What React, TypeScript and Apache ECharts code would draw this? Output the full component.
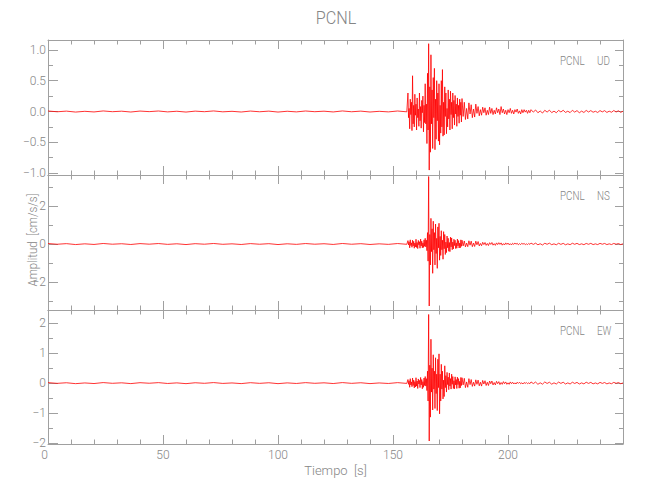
import React, { useEffect, useRef } from "react";
import * as echarts from "echarts";

// ---------- data ----------
const TITLE = "PCNL";
const STATION = "PCNL";
const COMPONENTS = ["UD", "NS", "EW"];
const X_NAME = "Tiempo  [s]";
const Y_NAME = "Amplitud  [cm/s/s]";

const X_MIN = 0;
const X_MAX = 250;
const xMajorTicks = [0, 50, 100, 150, 200];
const xMinorTicks = [10, 20, 30, 40, 60, 70, 80, 90, 110, 120, 130, 140, 160, 170, 180, 190, 210, 220, 230, 240];

const udRange = [-1.03, 1.16];
const nsRange = [-3.47, 3.63];
const ewRange = [-2.04, 2.45];
const udMajor = [-1, -0.5, 0, 0.5, 1];
const udMinor = [-0.75, -0.25, 0.25, 0.75];
const nsMajor = [-2, 0, 2];
const nsMinor = [-3, -1, 1, 3];
const ewMajor = [-2, -1, 0, 1, 2];
const ewMinor = [-1.5, -0.5, 0.5, 1.5];

// sampling of the read-off traces (seconds)
const PRE_START = 0;
const PRE_STEP = 4;
const BURST_START = 156.5;
const BURST_STEP = 0.25;
const CODA_START = 180;
const CODA_STEP = 0.5;
const POST_START = 210;
const POST_STEP = 1;

const udPre = [0.008, -0.004, 0.006, -0.009, 0.003, -0.007, 0.009, -0.003, 0.005, -0.008, 0.007, -0.002, 0.008, -0.006, 0.004, -0.009, 0.006, -0.003, 0.009, -0.005, 0.003, -0.008, 0.007, -0.004, 0.006, -0.009, 0.004, -0.006, 0.008, -0.003, 0.005, -0.007, 0.009, -0.004, 0.006, -0.008, 0.003, -0.006, 0.008, -0.005];
const udBurst = [
  0.3, -0.1, 0.05, -0.28, 0.2, -0.05, 0.15, -0.31, 0.58, -0.2,
  0.1, -0.25, 0.28, -0.06, 0.12, -0.3, 0.22, -0.1, 0.04, -0.24,
  0.3, -0.15, 0.08, -0.27, 0.18, -0.02, 0.25, -0.33, 0.1, -0.18,
  0.45, -0.2, 0.12, -0.52, 0.62, -0.3, 1.1, -0.95, 0.4, -0.66,
  0.92, -0.2, 0.35, -0.6, 0.55, -0.1, 0.7, -0.62, 0.2, -0.45,
  0.5, -0.15, 0.3, -0.48, 0.45, -0.54, 0.1, -0.35, 0.5, -0.25,
  0.68, -0.4, 0.15, -0.38, 0.4, -0.08, 0.3, -0.36, 0.05, -0.25,
  0.35, -0.12, 0.2, -0.3, 0.33, -0.05, 0.15, -0.28, 0.3, -0.1,
  0.18, -0.22, 0.26, -0.04, 0.12, -0.24, 0.22, -0.08, 0.1, -0.19,
  0.2, -0.06, 0.15, -0.17,
];
const udCoda = [
  0.21, -0.08, 0.15, -0.13, 0.05, -0.12, 0.14, -0.04, 0.11, -0.1,
  0.04, -0.09, 0.12, -0.03, 0.08, -0.07, 0.03, -0.06, 0.07, -0.02,
  0.06, -0.06, 0.02, -0.05, 0.07, -0.03, 0.05, -0.05, 0.02, -0.04,
  0.06, -0.02, 0.04, -0.05, 0.08, -0.02, 0.04, -0.04, 0.02, -0.05,
  0.03, -0.02, 0.05, -0.03, 0.02, -0.04, 0.03, -0.01, 0.04, -0.03,
  0.01, -0.04, 0.03, -0.02, 0.03, -0.01, 0.02, -0.03, 0.02, -0.02,
];
const udPost = [0.03, -0.01, 0.025, -0.02, 0.008, -0.025, 0.02, -0.01, 0.022, -0.018, 0.006, -0.02, 0.018, -0.008, 0.02, -0.015, 0.005, -0.018, 0.02, -0.01, 0.015, -0.02, 0.006, -0.016, 0.018, -0.008, 0.015, -0.012, 0.004, -0.016, 0.015, -0.006, 0.014, -0.015, 0.005, -0.012, 0.016, -0.008, 0.012, -0.014, 0.005];

const nsPre = [0.025, -0.012, 0.02, -0.028, 0.01, -0.022, 0.028, -0.01, 0.015, -0.025, 0.022, -0.008, 0.025, -0.018, 0.012, -0.028, 0.018, -0.01, 0.028, -0.015, 0.01, -0.025, 0.022, -0.012, 0.018, -0.028, 0.012, -0.018, 0.025, -0.01, 0.015, -0.022, 0.028, -0.012, 0.018, -0.025, 0.01, -0.018, 0.025, -0.015];
const nsBurst = [
  0.18, -0.05, 0.12, -0.2, 0.22, -0.08, 0.06, -0.17, 0.2, -0.1,
  0.14, -0.22, 0.05, -0.15, 0.25, -0.18, 0.08, -0.24, 0.19, -0.04,
  0.12, -0.22, 0.26, -0.1, 0.15, -0.2, 0.06, -0.18, 0.22, -0.12,
  0.3, -0.15, 0.2, -0.35, 0.6, -0.9, 3.55, -3.26, 0.5, -1.1,
  1.35, -0.4, 0.8, -1.54, 1.2, -0.3, 0.6, -1.1, 1.05, -0.5,
  0.3, -1.28, 0.9, -0.2, 1.09, -0.85, 0.4, -0.6, 0.7, -0.3,
  0.2, -0.8, 0.65, -0.25, 0.5, -0.55, 0.1, -0.45, 0.42, -0.2,
  0.3, -0.38, 0.08, -0.4, 0.36, -0.15, 0.32, -0.3, 0.1, -0.26,
  0.25, -0.08, 0.2, -0.24, 0.06, -0.22, 0.26, -0.1, 0.18, -0.21,
  0.05, -0.2, 0.22, -0.12,
];
const nsCoda = [
  0.2, -0.1, 0.16, -0.15, 0.05, -0.14, 0.17, -0.06, 0.15, -0.14,
  0.05, -0.13, 0.15, -0.04, 0.13, -0.1, 0.03, -0.09, 0.09, -0.03,
  0.08, -0.07, 0.03, -0.08, 0.07, -0.02, 0.08, -0.06, 0.02, -0.07,
  0.06, -0.03, 0.07, -0.02, 0.06, -0.06, 0.02, -0.05, 0.06, -0.02,
  0.05, -0.04, 0.02, -0.05, 0.04, -0.02, 0.05, -0.01, 0.04, -0.04,
  0.02, -0.03, 0.04, -0.01, 0.03, -0.03, 0.01, -0.03, 0.03, -0.02,
];
const nsPost = [0.05, -0.02, 0.045, -0.04, 0.015, -0.05, 0.04, -0.015, 0.045, -0.035, 0.01, -0.04, 0.04, -0.02, 0.035, -0.04, 0.01, -0.035, 0.04, -0.015, 0.035, -0.03, 0.01, -0.035, 0.03, -0.015, 0.035, -0.03, 0.008, -0.03, 0.035, -0.012, 0.03, -0.03, 0.01, -0.028, 0.03, -0.012, 0.025, -0.03, 0.01];

const ewPre = [0.016, -0.008, 0.012, -0.018, 0.006, -0.014, 0.018, -0.006, 0.01, -0.016, 0.014, -0.004, 0.016, -0.012, 0.008, -0.018, 0.012, -0.006, 0.018, -0.01, 0.006, -0.016, 0.014, -0.008, 0.012, -0.018, 0.008, -0.012, 0.016, -0.006, 0.01, -0.014, 0.018, -0.008, 0.012, -0.016, 0.006, -0.012, 0.016, -0.01];
const ewBurst = [
  0.12, -0.04, 0.08, -0.14, 0.15, -0.06, 0.04, -0.12, 0.17, -0.08,
  0.1, -0.16, 0.05, -0.13, 0.18, -0.1, 0.07, -0.18, 0.14, -0.03,
  0.09, -0.15, 0.19, -0.06, 0.12, -0.19, 0.05, -0.14, 0.17, -0.08,
  0.22, -0.1, 0.15, -0.25, 0.4, -0.6, 2.3, -1.94, 0.6, -1.14,
  1.47, -0.3, 0.5, -0.9, 0.95, -0.2, 0.4, -0.85, 0.85, -0.35,
  0.3, -0.92, 0.8, -0.15, 0.98, -1.03, 0.3, -0.6, 0.63, -0.2,
  0.4, -0.53, 0.1, -0.45, 0.58, -0.15, 0.25, -0.3, 0.36, -0.05,
  0.2, -0.22, 0.34, -0.1, 0.15, -0.2, 0.3, -0.04, 0.22, -0.18,
  0.08, -0.19, 0.21, -0.06, 0.12, -0.18, 0.2, -0.05, 0.15, -0.17,
  0.06, -0.16, 0.19, -0.08,
];
const ewCoda = [
  0.18, -0.06, 0.16, -0.15, 0.04, -0.14, 0.15, -0.05, 0.12, -0.11,
  0.03, -0.1, 0.11, -0.04, 0.1, -0.09, 0.03, -0.1, 0.09, -0.03,
  0.08, -0.08, 0.03, -0.08, 0.07, -0.02, 0.07, -0.06, 0.02, -0.06,
  0.06, -0.02, 0.05, -0.05, 0.02, -0.04, 0.05, -0.02, 0.04, -0.04,
  0.01, -0.04, 0.04, -0.02, 0.03, -0.03, 0.01, -0.03, 0.03, -0.01,
  0.03, -0.02, 0.01, -0.03, 0.02, -0.01, 0.02, -0.02, 0.01, -0.02,
];
const ewPost = [0.04, -0.015, 0.035, -0.04, 0.01, -0.035, 0.04, -0.012, 0.03, -0.035, 0.01, -0.03, 0.035, -0.01, 0.03, -0.03, 0.008, -0.03, 0.03, -0.012, 0.025, -0.03, 0.008, -0.025, 0.03, -0.01, 0.025, -0.025, 0.006, -0.025, 0.025, -0.01, 0.02, -0.025, 0.006, -0.02, 0.025, -0.008, 0.02, -0.02, 0.005];

// ---------- styling ----------
const AXIS_COLOR = "#a0a0a0";
const TEXT_COLOR = "#858585";
const TRACE_COLOR = "#ff0000";
const FONT = "Roboto, 'DejaVu Sans', sans-serif";
const FONT_WEIGHT = 300;

const GRID_LEFT = 48;
const GRID_RIGHT = 27;
const gridTops = [40, 175, 310];
const gridHeights = [135, 135, 134];

function pushSegment(pts: number[][], vals: number[], start: number, step: number) {
  vals.forEach((v, i) => pts.push([start + i * step, v]));
}

function buildTrace(pre: number[], burst: number[], coda: number[], post: number[]) {
  const pts: number[][] = [];
  pushSegment(pts, pre, PRE_START, PRE_STEP);
  pushSegment(pts, burst, BURST_START, BURST_STEP);
  pushSegment(pts, coda, CODA_START, CODA_STEP);
  pushSegment(pts, post, POST_START, POST_STEP);
  return pts;
}

function fmtDecimal(v: number) {
  const s = Math.abs(v).toFixed(1);
  return v < 0 ? "\u2212" + s : s;
}
function fmtInt(v: number) {
  const s = Math.abs(Math.round(v)).toString();
  return v < 0 ? "\u2212" + s : s;
}

function xAxisDef(grid: number, position: string, ticks: number[], len: number, showLine: boolean, showLabels: boolean, withName: boolean) {
  return {
    type: "value",
    gridIndex: grid,
    min: X_MIN,
    max: X_MAX,
    position,
    name: withName ? X_NAME : "",
    nameLocation: "middle",
    nameGap: 20,
    nameTextStyle: { color: TEXT_COLOR, fontFamily: FONT, fontWeight: FONT_WEIGHT, fontSize: 13 },
    axisLine: { show: showLine, onZero: false, lineStyle: { color: AXIS_COLOR, width: 1 } },
    axisTick: { show: true, inside: true, length: len, customValues: ticks, lineStyle: { color: AXIS_COLOR, width: 1 } },
    axisLabel: {
      show: showLabels,
      customValues: xMajorTicks,
      color: TEXT_COLOR,
      fontFamily: FONT,
      fontWeight: FONT_WEIGHT,
      fontSize: 12,
      lineHeight: 12,
      margin: 5,
      alignMinLabel: "right",
    },
    splitLine: { show: false },
    minorTick: { show: false },
  };
}

function yAxisDef(grid: number, position: string, range: number[], ticks: number[], labelTicks: number[], len: number, showLine: boolean, showLabels: boolean, fmt: (v: number) => string) {
  return {
    type: "value",
    gridIndex: grid,
    min: range[0],
    max: range[1],
    position,
    axisLine: { show: showLine, onZero: false, lineStyle: { color: AXIS_COLOR, width: 1 } },
    axisTick: { show: true, inside: true, length: len, customValues: ticks, lineStyle: { color: AXIS_COLOR, width: 1 } },
    axisLabel: {
      show: showLabels,
      customValues: labelTicks,
      color: TEXT_COLOR,
      fontFamily: FONT,
      fontWeight: FONT_WEIGHT,
      fontSize: 12,
      lineHeight: 10,
      margin: 2,
      formatter: fmt,
    },
    splitLine: { show: false },
    minorTick: { show: false },
  };
}

export default function App() {
  const ref = useRef<HTMLDivElement>(null);

  useEffect(() => {
    if (!ref.current) return;
    const chart = echarts.init(ref.current, undefined, { renderer: "svg" });

    const ranges = [udRange, nsRange, ewRange];
    const majors = [udMajor, nsMajor, ewMajor];
    const minors = [udMinor, nsMinor, ewMinor];
    const fmts = [fmtDecimal, fmtInt, fmtInt];
    const traces = [
      buildTrace(udPre, udBurst, udCoda, udPost),
      buildTrace(nsPre, nsBurst, nsCoda, nsPost),
      buildTrace(ewPre, ewBurst, ewCoda, ewPost),
    ];

    const grids: any[] = [];
    const xAxes: any[] = [];
    const yAxes: any[] = [];
    const series: any[] = [];
    const graphics: any[] = [];

    for (let g = 0; g < 3; g++) {
      grids.push({ left: GRID_LEFT, right: GRID_RIGHT, top: gridTops[g], height: gridHeights[g], containLabel: false });
      const last = g === 2;
      const xBase = xAxes.length;
      xAxes.push(xAxisDef(g, "bottom", xMajorTicks, 9, true, last, last));
      xAxes.push(xAxisDef(g, "bottom", xMinorTicks, 4.5, false, false, false));
      xAxes.push(xAxisDef(g, "top", xMajorTicks, 9, true, false, false));
      xAxes.push(xAxisDef(g, "top", xMinorTicks, 4.5, false, false, false));
      const yBase = yAxes.length;
      yAxes.push(yAxisDef(g, "left", ranges[g], majors[g], majors[g], 10, true, true, fmts[g]));
      yAxes.push(yAxisDef(g, "left", ranges[g], minors[g], majors[g], 5, false, false, fmts[g]));
      yAxes.push(yAxisDef(g, "right", ranges[g], majors[g], majors[g], 8, true, false, fmts[g]));
      yAxes.push(yAxisDef(g, "right", ranges[g], minors[g], majors[g], 4, false, false, fmts[g]));

      series.push({
        type: "line",
        name: COMPONENTS[g],
        xAxisIndex: xBase,
        yAxisIndex: yBase,
        data: traces[g],
        showSymbol: false,
        symbol: "none",
        clip: false,
        lineStyle: { color: TRACE_COLOR, width: 0.8 },
        itemStyle: { color: TRACE_COLOR },
        z: 1,
      });

      graphics.push({
        type: "text",
        x: 560,
        y: gridTops[g] + 21,
        scaleX: 0.82,
        style: { text: STATION, fill: TEXT_COLOR, font: `${FONT_WEIGHT} 12px ${FONT}`, textAlign: "left", textVerticalAlign: "middle" },
      });
      graphics.push({
        type: "text",
        x: 597,
        y: gridTops[g] + 21,
        scaleX: 0.82,
        style: { text: COMPONENTS[g], fill: TEXT_COLOR, font: `${FONT_WEIGHT} 12px ${FONT}`, textAlign: "left", textVerticalAlign: "middle" },
      });
    }

    graphics.push({
      type: "text",
      x: 336,
      y: 18,
      scaleX: 0.9,
      style: { text: TITLE, fill: TEXT_COLOR, font: `${FONT_WEIGHT} 18px ${FONT}`, textAlign: "center", textVerticalAlign: "middle" },
    });
    graphics.push({
      type: "text",
      x: 33,
      y: 240,
      rotation: Math.PI / 2,
      scaleX: 0.88,
      style: { text: Y_NAME, fill: TEXT_COLOR, font: `${FONT_WEIGHT} 13px ${FONT}`, textAlign: "center", textVerticalAlign: "middle" },
    });

    chart.setOption({
      animation: false,
      backgroundColor: "#ffffff",
      grid: grids,
      xAxis: xAxes,
      yAxis: yAxes,
      series,
      graphic: graphics,
      tooltip: { show: false },
    });

    return () => chart.dispose();
  }, []);

  return <div ref={ref} style={{ position: "absolute", left: 0, top: 0, width: 650, height: 500 }} />;
}
